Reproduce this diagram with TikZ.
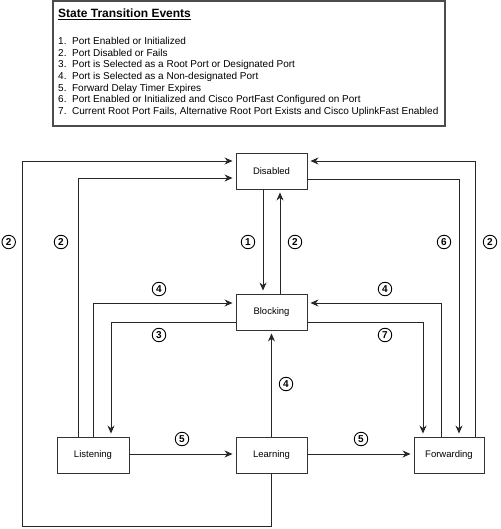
\documentclass[tikz,border=0pt]{standalone}
\usepackage{fontspec}
\setmainfont{Liberation Sans}
\usetikzlibrary{calc,arrows.meta}
\begin{document}
\begin{tikzpicture}[x=1pt,y=-1pt,
  state/.style={draw=black!80,line width=0.9pt,minimum width=71pt,minimum height=36pt,inner sep=0pt,font=\fontsize{9.5}{10}\selectfont},
  arr/.style={line width=0.9pt,draw=black!85,-{Stealth[length=8pt,width=7pt]},shorten >=3pt},
  num/.style={circle,draw=black,line width=0.9pt,minimum size=13.5pt,inner sep=0pt,font=\fontsize{10}{10}\bfseries},
  item/.style={anchor=base west,inner sep=0pt,font=\fontsize{10}{11}\selectfont}]
\useasboundingbox (0,0) rectangle (500,529);
% legend
\node[draw=black!70,line width=1.3pt,minimum width=392pt,minimum height=125pt,inner sep=0pt] (legend) at (249,63.5) {};
\node[anchor=base west,inner sep=0pt,font=\fontsize{12}{12}\bfseries] (title) at (58,17.5) {\underline{State Transition Events}};
\node[item] (e1) at (58,44.5) {1.\ \ Port Enabled or Initialized};
\node[item] (e2) at (58,56.2) {2.\ \ Port Disabled or Fails};
\node[item] (e3) at (58,67.9) {3.\ \ Port is Selected as a Root Port or Designated Port};
\node[item] (e4) at (58,79.6) {4.\ \ Port is Selected as a Non-designated Port};
\node[item] (e5) at (58,91.3) {5.\ \ Forward Delay Timer Expires};
\node[item] (e6) at (58,103.0) {6.\ \ Port Enabled or Initialized and Cisco PortFast Configured on Port};
\node[item] (e7) at (58,114.7) {7.\ \ Current Root Port Fails, Alternative Root Port Exists and Cisco UplinkFast Enabled};
% states
\node[state] (Disabled) at (271.5,171) {Disabled};
\node[state] (Blocking) at (271.5,312) {Blocking};
\node[state,minimum width=72pt] (Listening) at (93,455) {Listening};
\node[state] (Learning) at (271.5,455) {Learning};
\node[state,minimum width=70pt] (Forwarding) at (449,455) {Forwarding};
\coordinate (ol) at (22,526);
% connectors
\draw[arr] (Learning.south) |- (ol) |- ($(Disabled.west)+(0,-10)$);
\draw[arr] ($(Listening.north)+(-15,0)$) |- ($(Disabled.west)+(0,7)$);
\draw[arr] ($(Disabled.south)+(-8.5,0)$) -- ($(Blocking.north)+(-8.5,0)$);
\draw[arr] ($(Blocking.north)+(8.5,0)$) -- ($(Disabled.south)+(8.5,0)$);
\draw[arr] (Listening.north) |- ($(Blocking.west)+(0,-9)$);
\draw[arr] ($(Blocking.west)+(0,10)$) -| ($(Listening.north)+(18,0)$);
\draw[arr] (Learning.north) -- (Blocking.south);
\draw[arr] ($(Forwarding.north)+(-8,0)$) |- ($(Blocking.east)+(0,-9)$);
\draw[arr] ($(Blocking.east)+(0,10)$) -| ($(Forwarding.north)+(-26,0)$);
\draw[arr] ($(Disabled.east)+(0,8)$) -| ($(Forwarding.north)+(10,0)$);
\draw[arr] ($(Forwarding.north)+(26,0)$) |- ($(Disabled.east)+(0,-10)$);
\draw[arr] ($(Listening.east)+(0,-1)$) -- ($(Learning.west)+(0,-1)$);
\draw[arr] ($(Learning.east)+(0,-1)$) -- ($(Forwarding.west)+(0,-1)$);
% labels
\node[num] (n1) at (8.7,242) {2};
\node[num] (n2) at (61,242) {2};
\node[num] (n3) at (248,242) {1};
\node[num] (n4) at (295,242) {2};
\node[num] (n5) at (444,242) {6};
\node[num] (n6) at (490,242) {2};
\node[num] (n7) at (159,289) {4};
\node[num] (n8) at (159,335) {3};
\node[num] (n9) at (385,289) {4};
\node[num] (n10) at (385,335) {7};
\node[num] (n11) at (286,384) {4};
\node[num] (n12) at (182,439) {5};
\node[num] (n13) at (361,439) {5};
\end{tikzpicture}
\end{document}
